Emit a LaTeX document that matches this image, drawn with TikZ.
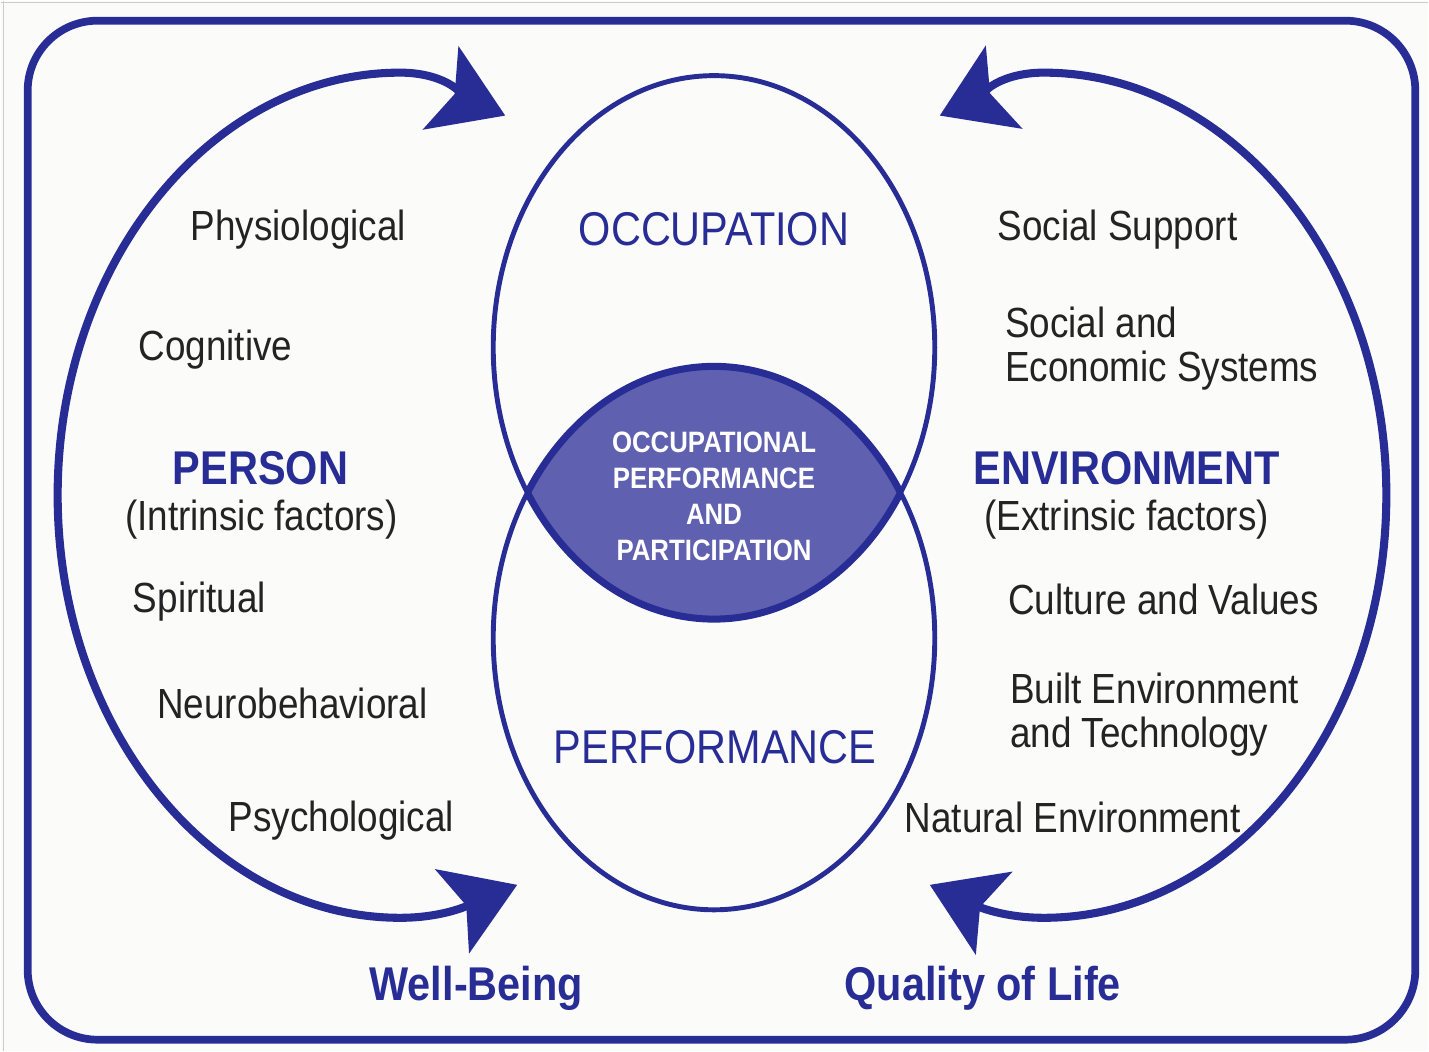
\documentclass[tikz,border=0pt]{standalone}
\usepackage{fontspec}
\setmainfont{Liberation Sans}[FakeStretch=0.875]
\usetikzlibrary{arrows.meta}

\definecolor{modelblue}{RGB}{40,45,150}
\definecolor{lensfill}{RGB}{96,96,176}
\definecolor{inkgray}{RGB}{35,35,35}
\definecolor{paper}{RGB}{251,251,250}

\begin{document}
\begin{tikzpicture}[
    x=0.02cm, y=-0.02cm,
    factor/.style={text=inkgray, inner sep=0pt, font=\fontsize{24}{25}\selectfont},
    heading/.style={text=modelblue, inner sep=0pt, font=\bfseries\fontsize{27}{28}\selectfont},
    sphere/.style={text=modelblue, inner sep=0pt, font=\fontsize{27}{28}\selectfont},
    ring/.style={draw=modelblue, line width=2.8pt},
    lens edge/.style={draw=modelblue, line width=4pt},
    loop arrow/.style={draw=modelblue, line width=4.6pt,
        {Stealth[length=1.4cm, width=1.8cm, inset=0.3cm]}-{Stealth[length=1.4cm, width=1.8cm, inset=0.3cm]}}
  ]

    \fill[paper] (0,0) rectangle (1429,1051);
    \draw[black!20, line width=0.8pt] (0,2) -- (1429,2) (3,0) -- (3,1051);
    \draw[modelblue, line width=4.4pt, rounded corners=1.4cm] (27,20) rectangle (1416,1040);

    % the overlap of the two spheres
    \begin{scope}
        \clip (714,347) ellipse [x radius=221, y radius=272];
        \fill[lensfill] (714,638) ellipse [x radius=221, y radius=272];
        \draw[lens edge] (714,638) ellipse [x radius=221, y radius=272];
    \end{scope}
    \begin{scope}
        \clip (714,638) ellipse [x radius=221, y radius=272];
        \draw[lens edge] (714,347) ellipse [x radius=221, y radius=272];
    \end{scope}
    \draw[ring] (714,347) ellipse [x radius=221, y radius=272];
    \draw[ring] (714,638) ellipse [x radius=221, y radius=272];

    \coordinate (person top) at (505,115);
    \coordinate (person bottom) at (517,885);
    \coordinate (env top) at (940,115);
    \coordinate (env bottom) at (930,885);

    \draw[loop arrow] (person bottom) .. controls (480,900) and (450,918) .. (400,918)
        .. controls (211,918) and (57,728) .. (57,495)
        .. controls (57,262) and (211,72) .. (400,72)
        .. controls (450,72) and (470,100) .. (person top);
    \draw[loop arrow] (env bottom) .. controls (964,900) and (994,918) .. (1044,918)
        .. controls (1233,918) and (1387,728) .. (1387,495)
        .. controls (1387,262) and (1233,72) .. (1044,72)
        .. controls (994,72) and (974,100) .. (env top);

    \node[sphere, anchor=base] (occ) at (714,245) {OCCUPATION};
    \node[sphere, anchor=base] (perf) at (715,764) {PERFORMANCE};
    \node[text=white, inner sep=0pt, align=center, font=\bfseries\fontsize{16.8}{20.5}\selectfont]
        (opp) at (714,496) {OCCUPATIONAL\\PERFORMANCE\\AND\\PARTICIPATION};

    \node[factor, anchor=base] (physio) at (298,240) {Physiological};
    \node[factor, anchor=base] (cogn) at (215,360) {Cognitive};
    \node[heading, anchor=base] (person) at (260,484) {PERSON};
    \node[factor, anchor=base] (intr) at (261,530) {(Intrinsic factors)};
    \node[factor, anchor=base] (spirit) at (199,612) {Spiritual};
    \node[factor, anchor=base] (neuro) at (292,718) {Neurobehavioral};
    \node[factor, anchor=base] (psych) at (341,832) {Psychological};

    \node[factor, anchor=base] (support) at (1118,240) {Social Support};
    \node[factor, anchor=west, align=left] (systems) at (1005,348) {Social and\\Economic Systems};
    \node[heading, anchor=base] (env) at (1127,484) {ENVIRONMENT};
    \node[factor, anchor=base] (extr) at (1127,530) {(Extrinsic factors)};
    \node[factor, anchor=base] (culture) at (1164,614) {Culture and Values};
    \node[factor, anchor=west, align=left] (built) at (1010,715) {Built Environment\\and Technology};
    \node[factor, anchor=base] (nature) at (1073,833) {Natural Environment};

    \node[heading, anchor=base] (wellbeing) at (476,1001) {Well-Being};
    \node[heading, anchor=base] (qol) at (983,1001) {Quality of Life};

\end{tikzpicture}
\end{document}
